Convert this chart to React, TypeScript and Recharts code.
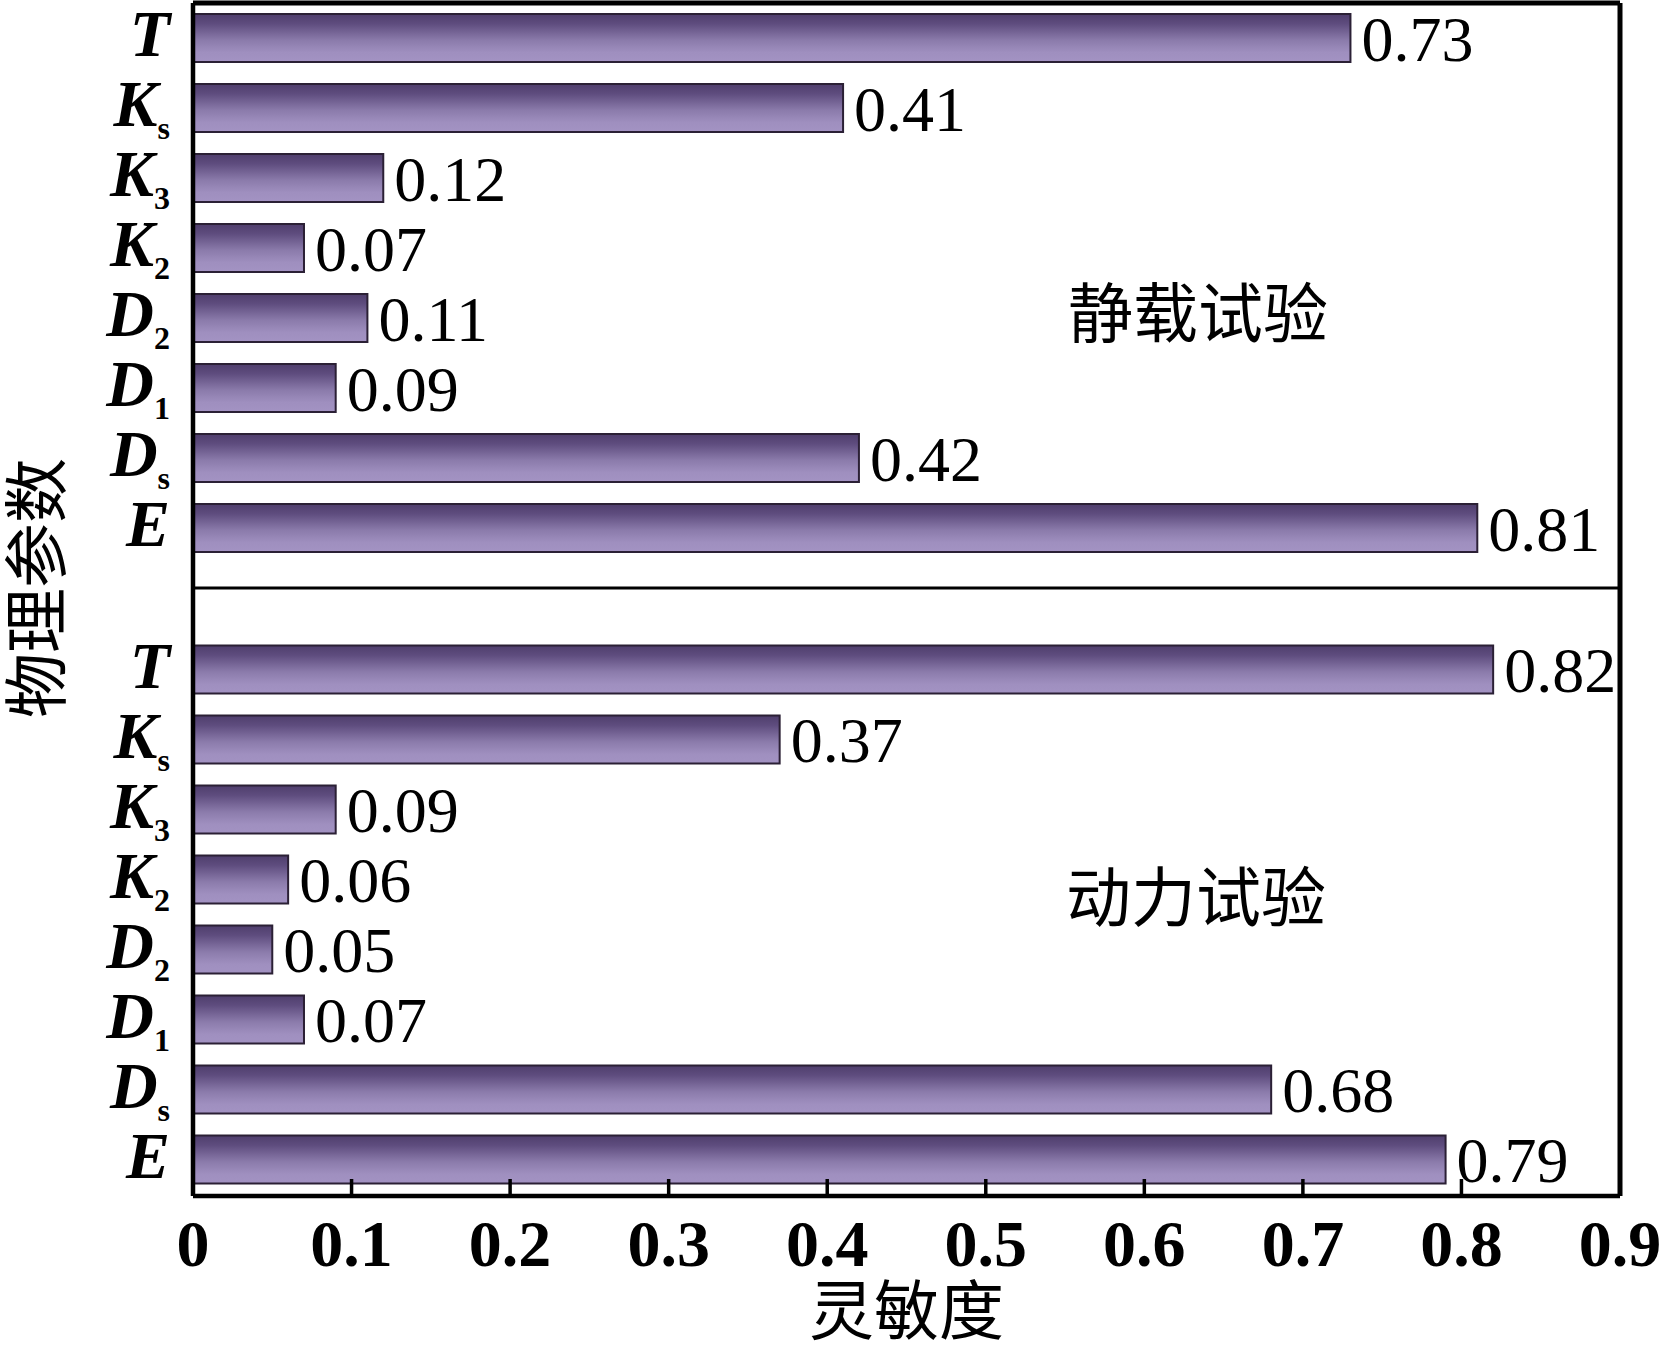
import React from 'react';
import { BarChart, Bar, XAxis, YAxis, LabelList, ReferenceLine, Label } from 'recharts';

const categories = ['T', 'Ks', 'K3', 'K2', 'D2', 'D1', 'Ds', 'E'];
const staticValues = [0.73, 0.41, 0.12, 0.07, 0.11, 0.09, 0.42, 0.81];
const dynamicValues = [0.82, 0.37, 0.09, 0.06, 0.05, 0.07, 0.68, 0.79];
const xTicks = [0, 0.1, 0.2, 0.3, 0.4, 0.5, 0.6, 0.7, 0.8, 0.9];
const panelTitles = ['静载试验', '动力试验'];
const xTitle = '灵敏度';
const yTitle = '物理参数';

const staticData = categories.map((name, i) => ({ name, value: staticValues[i] }));
const dynamicData = categories.map((name, i) => ({ name, value: dynamicValues[i] }));

const SERIF = "'Liberation Serif', 'Times New Roman', serif";
const CJK = "'Noto Sans CJK SC', sans-serif";

const CategoryTick = (props: any) => {
  const { x, y, payload } = props;
  const v: string = String(payload.value);
  const main = v[0];
  const sub = v.slice(1);
  return (
    <text x={x} y={y} dy={18} textAnchor="end" fontFamily={SERIF} fill="#000">
      <tspan fontSize={66} fontWeight="bold" fontStyle="italic">{main}</tspan>
      {sub ? (
        <tspan fontSize={32} fontWeight="bold" dy={13}>{sub}</tspan>
      ) : null}
    </text>
  );
};

const Gradient = ({ id }: { id: string }) => (
  <defs>
    <linearGradient id={id} x1="0" y1="0" x2="0" y2="1">
      <stop offset="0%" stopColor="#4f3e6c" />
      <stop offset="20%" stopColor="#5e4c7e" />
      <stop offset="55%" stopColor="#8b7bab" />
      <stop offset="80%" stopColor="#9f8fbf" />
      <stop offset="100%" stopColor="#a393c3" />
    </linearGradient>
  </defs>
);

const labelStyle = { fontFamily: SERIF, fontSize: 64 };
const fmt = (v: any) => Number(v).toFixed(2);

const annotationStyle: React.CSSProperties = {
  position: 'absolute',
  fontFamily: CJK,
  fontSize: 65,
  lineHeight: 1,
  whiteSpace: 'nowrap',
  color: '#000',
};

export default function App() {
  return (
    <div style={{ position: 'absolute', left: 0, top: 0, width: 1659, height: 1346, background: '#fff', overflow: 'hidden' }}>
      <div style={{ position: 'absolute', left: 0, top: 0 }}>
        <BarChart
          width={1659}
          height={590}
          data={staticData}
          layout="vertical"
          margin={{ top: 0, right: 39, bottom: 2, left: 0 }}
        >
          <Gradient id="barGradStatic" />
          <XAxis
            type="number"
            orientation="top"
            domain={[0, 0.9]}
            ticks={xTicks}
            tick={false}
            tickLine={false}
            axisLine={{ stroke: '#000', strokeWidth: 5 }}
            height={3}
          />
          <YAxis
            type="category"
            dataKey="name"
            width={193}
            axisLine={{ stroke: '#000', strokeWidth: 4.5 }}
            tickLine={false}
            tick={<CategoryTick />}
            tickMargin={17}
            interval={0}
            padding={{ top: 0, bottom: 25 }}
          />
          <ReferenceLine x={0.9} stroke="#000" strokeWidth={5} />
          <Bar
            dataKey="value"
            fill="url(#barGradStatic)"
            stroke="#2b2035"
            strokeWidth={2}
            barSize={48}
            isAnimationActive={false}
          >
            <LabelList dataKey="value" position="right" offset={11} formatter={fmt} fill="#000" style={labelStyle} />
          </Bar>
        </BarChart>
      </div>
      <div style={{ position: 'absolute', left: 0, top: 586 }}>
        <BarChart
          width={1659}
          height={760}
          data={dynamicData}
          layout="vertical"
          margin={{ top: 1, right: 39, bottom: 0, left: 0 }}
        >
          <Gradient id="barGradDynamic" />
          <XAxis
            xAxisId="divider"
            type="number"
            orientation="top"
            domain={[0, 0.9]}
            tick={false}
            tickLine={false}
            axisLine={{ stroke: '#000', strokeWidth: 3 }}
            height={1}
          />
          <XAxis
            type="number"
            orientation="bottom"
            domain={[0, 0.9]}
            ticks={xTicks}
            interval={0}
            height={150}
            axisLine={{ stroke: '#000', strokeWidth: 4.5 }}
            tickLine={{ stroke: '#000', strokeWidth: 3.5 }}
            tickSize={-17}
            tickMargin={40}
            tick={{ fill: '#000', fontSize: 66, fontWeight: 'bold', fontFamily: SERIF }}
          >
            <Label value={xTitle} position="insideBottom" offset={12} fontSize={65} fontFamily={CJK} fill="#000" />
          </XAxis>
          <YAxis
            type="category"
            dataKey="name"
            width={193}
            axisLine={{ stroke: '#000', strokeWidth: 4.5 }}
            tickLine={false}
            tick={<CategoryTick />}
            tickMargin={17}
            interval={0}
            padding={{ top: 46.5, bottom: 1.5 }}
          />
          <ReferenceLine x={0.9} stroke="#000" strokeWidth={5} />
          <Bar
            dataKey="value"
            fill="url(#barGradDynamic)"
            stroke="#2b2035"
            strokeWidth={2}
            barSize={48}
            isAnimationActive={false}
          >
            <LabelList dataKey="value" position="right" offset={11} formatter={fmt} fill="#000" style={labelStyle} />
          </Bar>
        </BarChart>
      </div>
      <div style={{ ...annotationStyle, left: 1198, top: 309, transform: 'translate(-50%, -50%)' }}>{panelTitles[0]}</div>
      <div style={{ ...annotationStyle, left: 1196, top: 893, transform: 'translate(-50%, -50%)' }}>{panelTitles[1]}</div>
      <div style={{ ...annotationStyle, left: 32, top: 588, transform: 'translate(-50%, -50%) rotate(-90deg)' }}>{yTitle}</div>
    </div>
  );
}
